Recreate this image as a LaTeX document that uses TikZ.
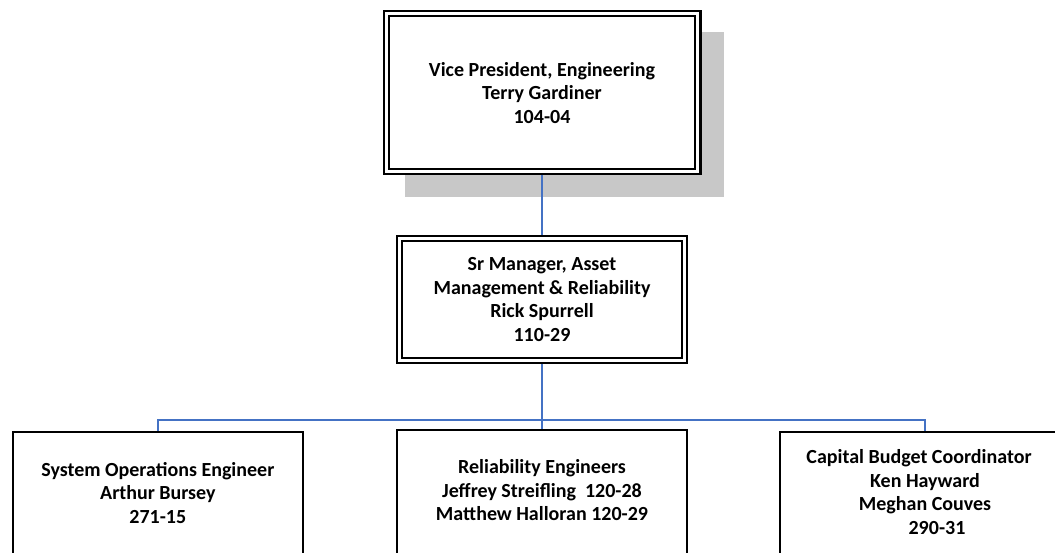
\documentclass[tikz,border=0pt]{standalone}
\usepackage{fontspec}
\setmainfont{Carlito}
\usetikzlibrary{backgrounds}
\definecolor{connblue}{RGB}{68,114,196}
\definecolor{shadowgray}{RGB}{200,200,200}
\begin{document}
\begin{tikzpicture}[x=1pt,y=-1pt,
  dblbox/.style={draw=black, fill=white, line width=2.2pt, double=white, double distance=3pt, outer sep=3.7pt, inner sep=0pt},
  plainbox/.style={draw=black, fill=white, line width=2pt, outer sep=1pt, inner sep=0pt, minimum width=290pt, minimum height=170pt},
  conn/.style={draw=connblue, line width=1.6pt},
  txt/.style={align=center, inner sep=0pt, anchor=north, font=\fontsize{20}{23.5}\selectfont\bfseries}]
\useasboundingbox (0,0) rectangle (1055,553);
\clip (0,0) rectangle (1055,553);

% boxes
\node[dblbox, minimum width=311.6pt, minimum height=157.9pt] (vp) at (542,92.35) {};
\begin{scope}[on background layer]
  \fill[shadowgray] ([shift={(22.5,22.5)}]vp.north west) rectangle ([shift={(22.5,22.5)}]vp.south east);
\end{scope}
\node[dblbox, minimum width=284.6pt, minimum height=121.9pt] (mgr) at (542,299.35) {};
\node[plainbox] (sys) at (157.85,516.7) {};
\node[plainbox] (rel) at (542,515) {};
\node[plainbox] (cap) at (925,517) {};

% connectors
\coordinate (bus) at (542,420);
\draw[conn] (vp.south) -- (mgr.north);
\draw[conn] (mgr.south) -- (mgr.south |- bus);
\draw[conn] (sys.north) -- (sys.north |- bus) -- (cap.north |- bus) -- (cap.north);
\draw[conn] (mgr.south |- bus) -- (rel.north);

% texts
\node[txt] (vpt) at (542,59.85) {\strut Vice President, Engineering\\Terry Gardiner\\104-04};
\node[txt] (mgrt) at (542,254.25) {\strut Sr Manager, Asset\\Management \& Reliability\\Rick Spurrell\\110-29};
\node[txt] (syst) at (157.85,459.55) {\strut System Operations Engineer\\Arthur Bursey\\271-15};
\node[txt] (relt) at (542,456.85) {\strut Reliability Engineers\\Jeffrey Streifling~ 120-28\\Matthew Halloran 120-29};
\node[txt] (capt) at (925,446.85) {\strut Capital Budget Coordinator\hspace*{12pt}\\Ken Hayward\\Meghan Couves\\\hspace*{24pt}290-31};
\end{tikzpicture}
\end{document}
